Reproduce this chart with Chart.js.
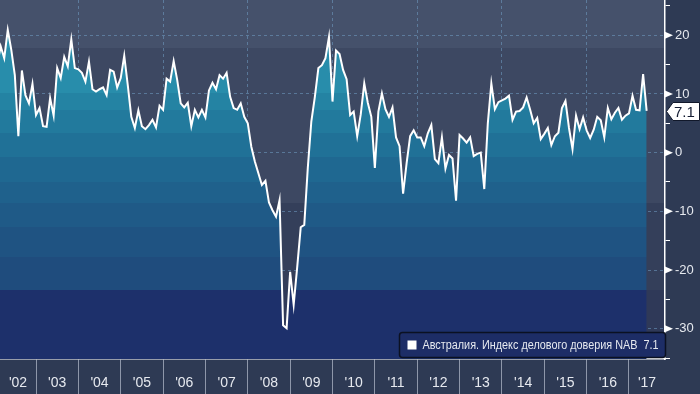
<!DOCTYPE html>
<html>
<head>
<meta charset="utf-8">
<script src="https://cdn.jsdelivr.net/npm/chart.js@4"></script>
<style>
  html, body { margin: 0; padding: 0; background: #2e3a54; }
  #wrap { width: 700px; height: 394px; }
</style>
</head>
<body>
<div id="wrap"><canvas id="nabChart" width="700" height="394"></canvas></div>
<script>
  const seriesName = 'Австралия. Индекс делового доверия NAB';
  const firstYear = 2002;

  // monthly readings, Jan 2002 .. May 2017
  const monthlyValues = [
    15.0, 18.1, 16.1, 20.9, 17.5, 13.2, 2.8, 14.0, 9.8, 8.4, 11.7, 6.4,        // 2002
    7.6, 4.5, 4.4, 9.3, 6.3, 14.4, 12.7, 16.3, 14.7, 19.3, 14.4, 14.2,         // 2003
    13.6, 12.1, 15.5, 10.8, 10.4, 10.8, 11.1, 9.8, 14.1, 13.8, 11.1, 12.7,     // 2004
    16.5, 11.5, 6.1, 4.2, 7.2, 4.5, 4.0, 4.7, 5.6, 4.3, 8.0, 7.3,              // 2005
    12.6, 12.1, 15.6, 12.4, 8.4, 7.7, 8.5, 4.5, 7.3, 6.0, 7.3, 6.0,            // 2006
    10.6, 11.9, 10.8, 13.2, 12.6, 13.6, 9.5, 7.6, 7.3, 8.4, 6.1, 5.0,          // 2007
    1.0, -1.5, -3.5, -5.5, -4.8, -8.5, -9.8, -10.9, -8.1, -29.4, -29.9, -20.3, // 2008
    -25.9, -19.5, -12.7, -12.3, -2.6, 5.3, 9.5, 14.4, 14.9, 16.1, 19.7, 8.7,   // 2009
    17.4, 16.8, 14.1, 12.5, 6.4, 7.0, 2.8, 6.5, 11.8, 8.5, 6.1, -2.6,          // 2010
    7.0, 10.1, 7.4, 6.1, 7.7, 2.6, 1.1, -7.0, -1.8, 2.8, 3.8, 2.6,             // 2011
    2.6, 1.1, 3.3, 4.7, -1.1, -1.8, 2.6, -2.7, -0.4, -1.0, -8.2, 3.0,          // 2012
    2.4, 1.7, 2.6, -0.6, -0.2, 0.0, -6.2, 5.0, 11.8, 7.4, 8.6, 8.9,            // 2013
    9.2, 9.7, 5.6, 7.0, 7.1, 7.7, 9.4, 7.3, 5.0, 5.9, 2.3, 3.2,                // 2014
    4.2, 1.3, 2.8, 3.4, 7.6, 8.8, 4.2, 0.6, 6.3, 4.0, 6.0, 3.8,                // 2015
    2.5, 3.9, 6.1, 5.5, 2.6, 7.6, 5.7, 6.8, 7.6, 5.6, 6.3, 6.7,                // 2016
    9.7, 7.3, 7.2, 13.4, 7.1                                                   // 2017
  ];

  const yearLabels = ["'02", "'03", "'04", "'05", "'06", "'07", "'08", "'09",
                      "'10", "'11", "'12", "'13", "'14", "'15", "'16", "'17"];
  const majorTicks = [-30, -20, -10, 0, 10, 20];
  const minorTicks = [-35, -25, -15, -5, 5, 15, 25];

  const xMin = 2002.15, xMax = 2017.85;
  const yMin = -35.15, yMax = 26;

  const gridColor = 'rgba(118, 165, 205, 0.5)';
  const textColor = '#e6e9ef';

  const points = monthlyValues.map((v, i) => ({ x: firstYear + (i + 1) / 12, y: v }));
  const lastValue = monthlyValues[monthlyValues.length - 1];

  // year separators and label centres on the time axis
  const yearStarts = [];
  for (let y = firstYear + 1; y <= firstYear + yearLabels.length - 1; y++) yearStarts.push(y);
  const labelCenters = yearLabels.map((_, i) => {
    const y0 = Math.max(firstYear + i, xMin), y1 = Math.min(firstYear + i + 1, xMax);
    return (y0 + y1) / 2;
  });

  // horizontal colour bands (pixel edges of a 359px tall plot)
  const bandEdges = [0, 48, 93, 110, 133, 157, 182, 203, 227, 257, 290, 359];
  const fillBands = ['rgb(42,148,178)', 'rgb(40,141,171)', 'rgb(36,131,163)', 'rgb(34,122,157)',
                     'rgb(32,113,151)', 'rgb(31,104,145)', 'rgb(31,97,140)', 'rgb(31,90,135)',
                     'rgb(31,83,130)', 'rgb(31,76,125)', 'rgb(29,48,107)'];
  const grayBands = ['rgb(69,81,107)', 'rgb(61,72,98)', 'rgb(61,72,98)', 'rgb(61,72,98)',
                     'rgb(61,72,98)', 'rgb(61,72,98)', 'rgb(61,72,98)', 'rgb(52,63,90)',
                     'rgb(52,63,90)', 'rgb(52,63,90)', 'rgb(47,57,88)'];

  function bandGradient(ctx, area, colors) {
    const g = ctx.createLinearGradient(0, area.top, 0, area.bottom);
    const h = bandEdges[bandEdges.length - 1];
    colors.forEach((c, i) => {
      g.addColorStop(bandEdges[i] / h, c);
      g.addColorStop(bandEdges[i + 1] / h, c);
    });
    return g;
  }

  const backdrop = {
    id: 'backdrop',
    beforeDraw(chart) {
      const { ctx, chartArea: a } = chart;
      ctx.save();
      ctx.fillStyle = '#2e3a54';
      ctx.fillRect(0, 0, chart.width, chart.height);
      ctx.fillStyle = bandGradient(ctx, a, grayBands);
      ctx.fillRect(a.left, a.top, a.width, a.height);
      ctx.restore();
    }
  };

  const decorations = {
    id: 'decorations',
    afterDraw(chart) {
      const { ctx, chartArea: a, scales: { y } } = chart;
      ctx.save();

      // arrow heads on the major ticks
      ctx.fillStyle = '#ffffff';
      majorTicks.forEach(v => {
        const py = y.getPixelForValue(v);
        ctx.beginPath();
        ctx.moveTo(a.right, py - 3.5);
        ctx.lineTo(a.right + 8, py);
        ctx.lineTo(a.right, py + 3.5);
        ctx.closePath();
        ctx.fill();
      });

      // last value tag
      const ty = Math.round(y.getPixelForValue(lastValue)) + 0.5;
      ctx.beginPath();
      ctx.moveTo(a.right + 1.5, ty);
      ctx.lineTo(a.right + 8, ty - 9);
      ctx.lineTo(chart.width - 0.5, ty - 9);
      ctx.lineTo(chart.width - 0.5, ty + 9);
      ctx.lineTo(a.right + 8, ty + 9);
      ctx.closePath();
      ctx.fillStyle = '#ffffff';
      ctx.fill();
      ctx.strokeStyle = '#11182a';
      ctx.lineWidth = 1;
      ctx.stroke();
      ctx.fillStyle = '#141c33';
      ctx.font = '15px "Liberation Sans"';
      ctx.textBaseline = 'middle';
      ctx.textAlign = 'left';
      ctx.fillText(lastValue.toFixed(1), a.right + 9, ty + 1);

      // legend box in the lower right corner
      const bw = 266, bh = 25;
      const bx = a.right - bw + 0.5, by = a.bottom - bh - 1.5;
      ctx.beginPath();
      ctx.roundRect(bx, by, bw, bh, 3);
      ctx.fillStyle = 'rgb(29,45,102)';
      ctx.fill();
      ctx.strokeStyle = '#0b1122';
      ctx.lineWidth = 1.5;
      ctx.stroke();
      ctx.fillStyle = '#ffffff';
      ctx.fillRect(bx + 8, by + 8, 9, 9);
      ctx.fillStyle = textColor;
      ctx.font = '12px "Liberation Sans"';
      const legendText = seriesName + '  ' + lastValue.toFixed(1);
      const room = 236;
      const w = ctx.measureText(legendText).width;
      const sx = Math.min(1, room / w);
      ctx.translate(bx + 23, by + bh / 2 + 1);
      ctx.scale(sx, 1);
      ctx.fillText(legendText, 0, 0);

      ctx.restore();
    }
  };

  new Chart(document.getElementById('nabChart'), {
    type: 'line',
    data: {
      datasets: [{
        label: seriesName,
        data: points,
        borderColor: '#ffffff',
        borderWidth: 2,
        pointRadius: 0,
        tension: 0,
        fill: 'start',
        backgroundColor: (c) => {
          const a = c.chart.chartArea;
          if (!a) return 'rgb(31,104,145)';
          return bandGradient(c.chart.ctx, a, fillBands);
        }
      }]
    },
    options: {
      responsive: false,
      devicePixelRatio: 1,
      animation: false,
      layout: { padding: 0 },
      plugins: { legend: { display: false }, tooltip: { enabled: false } },
      scales: {
        x: {
          type: 'linear',
          min: xMin,
          max: xMax,
          z: 1,
          afterBuildTicks: (s) => {
            s.ticks = yearStarts.concat(labelCenters).sort((p, q) => p - q).map(v => ({ value: v }));
          },
          afterFit: (s) => {
            s.height = 35;
            s.paddingLeft = 0;
            s.paddingRight = 0;
          },
          grid: {
            color: (c) => (c.tick && Number.isInteger(c.tick.value) && c.tick.value % 2 === 0) ? gridColor : 'transparent',
            lineWidth: 1,
            drawTicks: true,
            tickLength: 35,
            tickWidth: 1,
            tickColor: (c) => (c.tick && Number.isInteger(c.tick.value)) ? '#8e97aa' : 'transparent'
          },
          border: { color: '#ffffff', width: 1.5, dash: [3, 3] },
          ticks: {
            autoSkip: false,
            maxRotation: 0,
            padding: -19,
            color: textColor,
            font: { family: 'Liberation Sans', size: 14 },
            callback: (v) => Number.isInteger(v) ? '' : yearLabels[Math.floor(v) - firstYear]
          }
        },
        y: {
          position: 'right',
          min: yMin,
          max: yMax,
          z: 1,
          afterBuildTicks: (s) => {
            s.ticks = majorTicks.concat(minorTicks).sort((p, q) => p - q).map(v => ({ value: v }));
          },
          afterFit: (s) => {
            s.width = 35;
            s.paddingTop = 0;
            s.paddingBottom = 0;
          },
          grid: {
            color: (c) => (c.tick && c.tick.value % 10 === 0) ? gridColor : 'transparent',
            lineWidth: 1,
            tickLength: 5,
            tickWidth: 1,
            tickColor: (c) => (c.tick && c.tick.value % 10 === 0) ? 'transparent' : '#ffffff'
          },
          border: { color: '#ffffff', width: 1.5, dash: [3, 3] },
          ticks: {
            padding: 5,
            color: textColor,
            font: { family: 'Liberation Sans', size: 13 },
            callback: (v) => v % 10 === 0 ? String(v) : ''
          }
        }
      }
    },
    plugins: [backdrop, decorations]
  });
</script>
</body>
</html>
